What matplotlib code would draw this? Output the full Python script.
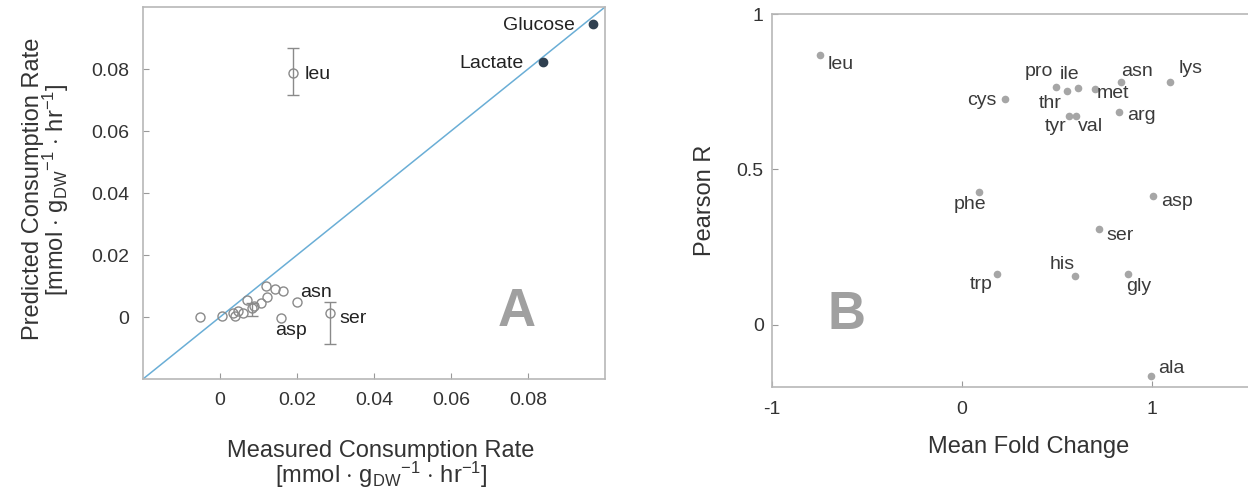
import matplotlib
matplotlib.use('Agg')
import matplotlib.pyplot as plt
import numpy as np

plt.rcParams['font.family'] = ['Liberation Sans', 'DejaVu Sans']
plt.rcParams['mathtext.fontset'] = 'custom'
plt.rcParams['mathtext.rm'] = 'Liberation Sans'
plt.rcParams['mathtext.it'] = 'Liberation Sans:italic'
plt.rcParams['mathtext.bf'] = 'Liberation Sans:bold'

# Panel A: amino acid uptake, measured vs predicted
aa_names = ['', '', '', '', '', '', '', '', '', '', '', '', '', '',
            'asp', 'asn', 'ser', 'leu']
aa_measured = [-0.0052, 0.0006, 0.0033, 0.0039, 0.0046, 0.0060, 0.0069, 0.0082,
               0.0088, 0.0106, 0.0120, 0.0123, 0.0143, 0.0164,
               0.0158, 0.0201, 0.0286, 0.0190]
aa_predicted = [0.0000, 0.0004, 0.0014, 0.0004, 0.0020, 0.0012, 0.0055, 0.0028,
                0.0035, 0.0044, 0.0100, 0.0066, 0.0089, 0.0085,
                -0.0002, 0.0049, 0.0012, 0.0787]
aa_err_low = [0, 0, 0, 0, 0, 0, 0, 0.0024, 0, 0, 0, 0, 0, 0, 0, 0, 0.0099, 0.0070]
aa_err_high = [0, 0, 0, 0, 0, 0, 0, 0.0018, 0, 0, 0, 0, 0, 0, 0, 0, 0.0035, 0.0080]

met_names = ['Glucose', 'Lactate']
met_measured = [0.0969, 0.0839]
met_predicted = [0.0945, 0.0822]

# Panel B: correlation vs fold change
b_names = ['leu', 'cys', 'pro', 'thr', 'ile', 'met', 'asn', 'lys', 'tyr', 'val',
           'arg', 'phe', 'asp', 'ser', 'his', 'trp', 'gly', 'ala']
b_fold = [-0.745, 0.224, 0.492, 0.551, 0.610, 0.698, 0.839, 1.096, 0.561, 0.600,
          0.824, 0.090, 1.006, 0.722, 0.596, 0.184, 0.873, 0.994]
b_pearson = [0.868, 0.726, 0.765, 0.752, 0.761, 0.759, 0.781, 0.780, 0.673, 0.673,
             0.686, 0.429, 0.414, 0.307, 0.157, 0.165, 0.162, -0.166]

# label placement (offset in points, alignment)
a_offsets = {'asp': (7, -9, 'center'), 'asn': (2, 7, 'left'),
             'ser': (7, -4, 'left'), 'leu': (8, -1, 'left'),
             'Glucose': (-13, -1, 'right'), 'Lactate': (-14, -1, 'right')}
b_offsets = {'leu': (5, -7, 'left'), 'cys': (-5.5, -1, 'right'), 'pro': (-1.5, 11, 'right'),
             'thr': (-4, -9, 'right'), 'ile': (-6, 10, 'center'), 'met': (1.5, -3, 'left'),
             'asn': (0, 7.5, 'left'), 'lys': (6, 10, 'left'), 'tyr': (-1.5, -7.5, 'right'),
             'val': (1.5, -7.5, 'left'), 'arg': (6, -3, 'left'), 'phe': (-6.5, -9, 'center'),
             'asp': (5.5, -4, 'left'), 'ser': (5.5, -4.5, 'left'), 'his': (-0.5, 8, 'right'),
             'trp': (-3.5, -8, 'right'), 'gly': (-1.5, -9, 'left'), 'ala': (5.5, 6, 'left')}

spine_col = '#b8b8b8'
text_col = '#333333'
unit_label = r'[mmol $\cdot$ g$_{\mathrm{DW}}$$^{-1}$ $\cdot$ hr$^{-1}$]'

fig = plt.figure(figsize=(12.48, 4.97), dpi=100)

# ---- Panel A ----
axA = fig.add_axes([0.1146, 0.2374, 0.3702, 0.7485])
lims = [-0.02, 0.1]
axA.plot(lims, lims, color='#6aaed6', lw=1.1, zorder=1)

x = np.array(aa_measured)
y = np.array(aa_predicted)
lo = np.array(aa_err_low)
hi = np.array(aa_err_high)
has_err = (lo + hi) > 0
axA.errorbar(x[has_err], y[has_err], yerr=[lo[has_err], hi[has_err]], fmt='none',
             ecolor='#8a8a8a', elinewidth=1, capsize=4, capthick=1, zorder=2)
axA.plot(x, y, 'o', mfc='none', mec='#8a8a8a', ms=6.5, mew=1, zorder=3)
axA.plot(met_measured, met_predicted, 'o', color='#2f4050', ms=6, zorder=4)

for name, xx, yy in zip(aa_names + met_names, aa_measured + met_measured,
                        aa_predicted + met_predicted):
    if name == '':
        continue
    dx, dy, ha = a_offsets[name]
    axA.annotate(name, (xx, yy), xytext=(dx, dy), textcoords='offset points',
                 ha=ha, va='center', fontsize=14, color='#222222')

axA.set_xlim(lims)
axA.set_ylim(lims)
ticks = [0, 0.02, 0.04, 0.06, 0.08]
tick_labels = ['0', '0.02', '0.04', '0.06', '0.08']
axA.set_xticks(ticks)
axA.set_xticklabels(tick_labels)
axA.set_yticks(ticks)
axA.set_yticklabels(tick_labels)
axA.tick_params(axis='x', pad=9)
axA.tick_params(axis='y', pad=10)
axA.set_xlabel('Measured Consumption Rate\n' + unit_label, fontsize=17, color=text_col,
               linespacing=0.9)
axA.set_ylabel('Predicted Consumption Rate\n' + unit_label, fontsize=17, color=text_col,
               linespacing=0.9)
axA.xaxis.set_label_coords(0.515, -0.163)
axA.yaxis.set_label_coords(-0.155, 0.51)
axA.text(0.81, 0.18, 'A', transform=axA.transAxes, fontsize=38, fontweight='bold',
         color='#a0a0a0', ha='center', va='center')

# ---- Panel B ----
axB = fig.add_axes([0.6186, 0.2213, 0.4111, 0.7505])
axB.plot(b_fold, b_pearson, 'o', color='#a6a6a6', ms=5.5, mew=0)
for name, xx, yy in zip(b_names, b_fold, b_pearson):
    dx, dy, ha = b_offsets[name]
    axB.annotate(name, (xx, yy), xytext=(dx, dy), textcoords='offset points',
                 ha=ha, va='center', fontsize=14, color='#3a3a3a')

axB.set_xlim(-1, 1.7)
axB.set_ylim(-0.2, 1)
axB.set_xticks([-1, 0, 1])
axB.set_xticklabels(['-1', '0', '1'])
axB.set_yticks([0, 0.5, 1])
axB.set_yticklabels(['0', '0.5', '1'])
axB.tick_params(axis='x', pad=10)
axB.tick_params(axis='y', pad=6)
axB.set_xlabel('Mean Fold Change', fontsize=17, color=text_col)
axB.set_ylabel('Pearson R', fontsize=17, color=text_col)
axB.xaxis.set_label_coords(0.5, -0.13)
axB.yaxis.set_label_coords(-0.11, 0.5)
axB.text(0.146, 0.193, 'B', transform=axB.transAxes, fontsize=38, fontweight='bold',
         color='#a0a0a0', ha='center', va='center')

for ax in (axA, axB):
    for s in ax.spines.values():
        s.set_color(spine_col)
        s.set_linewidth(1.2)
    ax.tick_params(direction='in', length=4, color='#999999', labelsize=14,
                   labelcolor=text_col)

fig.savefig('out.png', dpi=100)
